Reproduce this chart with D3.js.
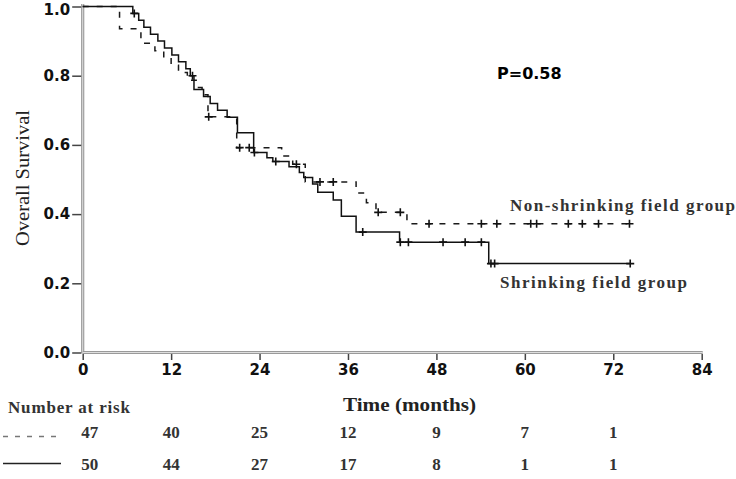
<!DOCTYPE html>
<html>
<head>
<meta charset="utf-8">
<script src="https://cdn.jsdelivr.net/npm/d3@7"></script>
<style>
  body { margin: 0; background: #fff; }
  svg { display: block; }
</style>
</head>
<body>
<div id="chart"></div>
<script>
// values
var timeTicks = [0, 12, 24, 36, 48, 60, 72, 84];
var survTicks = [0, 0.2, 0.4, 0.6, 0.8, 1.0];

// [time, survival after the drop]
var solidSteps = [
  [6.8, 0.98], [7.6, 0.96], [8.3, 0.94], [9.2, 0.92], [10.2, 0.90],
  [11.1, 0.88], [12.1, 0.86], [13.0, 0.84], [14.0, 0.82], [14.6, 0.80],
  [15.1, 0.76], [16.4, 0.74], [17.3, 0.72], [18.3, 0.70], [19.6, 0.68],
  [21.0, 0.635], [23.2, 0.578], [25.0, 0.563], [25.8, 0.552], [28.0, 0.537],
  [29.4, 0.52], [30.0, 0.506], [31.2, 0.487], [31.9, 0.463], [34.0, 0.441],
  [35.1, 0.394], [37.1, 0.348], [43.0, 0.319], [55.1, 0.257]
];
var solidCensor = [7.0, 14.9, 23.3, 26.2, 38.0, 43.1, 44.2, 48.9, 51.9, 54.1, 55.4, 55.9, 74.3];
var solidEnd = 74.3;

var dashedSteps = [
  [5.0, 0.936], [7.9, 0.894], [9.8, 0.872], [11.0, 0.851], [12.0, 0.830],
  [13.0, 0.809], [14.2, 0.787], [15.4, 0.766], [16.2, 0.745], [17.0, 0.681],
  [20.9, 0.592], [27.0, 0.568], [28.5, 0.544], [30.2, 0.493], [37.1, 0.461],
  [38.5, 0.433], [39.8, 0.405], [44.0, 0.372]
];
var dashedCensor = [17.1, 21.3, 22.6, 29.0, 32.2, 34.0, 40.1, 43.1, 47.0, 54.1, 56.2, 60.8, 61.6, 65.9, 67.8, 70.0, 74.2];
var dashedEnd = 74.2;

var riskTimes = [0, 12, 24, 36, 48, 60, 72];
var riskDashed = [47, 40, 25, 12, 9, 7, 1];
var riskSolid = [50, 44, 27, 17, 8, 1, 1];

var width = 736, height = 479;

var svg = d3.select('#chart').append('svg')
    .attr('width', width)
    .attr('height', height);

var x = d3.scaleLinear().domain([0, 84]).range([82.7, 701.7]);
var y = d3.scaleLinear().domain([0, 1]).range([352.5, 6.5]);

var sans = 'DejaVu Sans, sans-serif';
var serif = 'Liberation Serif, Times New Roman, serif';

// axes: grey double line look
function axisLine(x1, y1, x2, y2) {
  svg.append('line').attr('x1', x1).attr('y1', y1).attr('x2', x2).attr('y2', y2)
    .attr('stroke', '#9a9a9a').attr('stroke-width', 3.2);
  svg.append('line').attr('x1', x1).attr('y1', y1).attr('x2', x2).attr('y2', y2)
    .attr('stroke', '#dedede').attr('stroke-width', 1);
}
axisLine(x(0), 4, x(0), y(0) + 1);
axisLine(x(0), y(0), x(84) + 1, y(0));

// y ticks
var yAx = svg.append('g')
    .attr('transform', 'translate(' + (x(0) - 1.5) + ',0)')
    .call(d3.axisLeft(y).tickValues(survTicks).tickFormat(d3.format('.1f')).tickSize(9).tickPadding(2));
yAx.select('.domain').remove();
yAx.selectAll('.tick line').attr('stroke', '#444').attr('stroke-width', 1.5);
yAx.selectAll('.tick text')
    .attr('fill', '#111')
    .style('font-family', sans).style('font-size', '15px').style('font-weight', 'bold');
// keep the top label inside the frame
yAx.selectAll('.tick text').filter(function(d) { return d === 1; }).attr('dy', '0.5em');

// x ticks
var xAx = svg.append('g')
    .attr('transform', 'translate(0,' + (y(0) + 1.5) + ')')
    .call(d3.axisBottom(x).tickValues(timeTicks).tickFormat(d3.format('d')).tickSize(6).tickPadding(4));
xAx.select('.domain').remove();
xAx.selectAll('.tick line').attr('stroke', '#444').attr('stroke-width', 1.5);
xAx.selectAll('.tick text')
    .attr('fill', '#111')
    .style('font-family', sans).style('font-size', '15px').style('font-weight', 'bold');

// survival curves
function points(steps, end) {
  var pts = [[0, 1]];
  steps.forEach(function(s) { pts.push(s); });
  pts.push([end, steps[steps.length - 1][1]]);
  return pts;
}
function survAt(steps, t) {
  var s = 1;
  steps.forEach(function(d) { if (d[0] <= t) s = d[1]; });
  return s;
}

var line = d3.line()
    .x(function(d) { return x(d[0]); })
    .y(function(d) { return y(d[1]); })
    .curve(d3.curveStepAfter);

svg.append('path')
    .datum(points(dashedSteps, dashedEnd))
    .attr('d', line)
    .attr('fill', 'none')
    .attr('stroke', '#1a1a1a')
    .attr('stroke-width', 1.5)
    .attr('stroke-dasharray', '6,8');

svg.append('path')
    .datum(points(solidSteps, solidEnd))
    .attr('d', line)
    .attr('fill', 'none')
    .attr('stroke', '#111')
    .attr('stroke-width', 1.5);

function censorMarks(times, steps) {
  svg.append('g').selectAll('path')
    .data(times)
    .enter()
      .append('path')
      .attr('d', function(t) {
        var cx = x(t), cy = y(survAt(steps, t));
        return 'M' + (cx - 4) + ',' + cy + 'H' + (cx + 4) + 'M' + cx + ',' + (cy - 4) + 'V' + (cy + 4);
      })
      .attr('stroke', '#111')
      .attr('stroke-width', 1.6);
}
censorMarks(dashedCensor, dashedSteps);
censorMarks(solidCensor, solidSteps);

// labels
svg.append('text')
    .attr('x', 497).attr('y', 79)
    .style('font-family', sans).style('font-size', '16px').style('font-weight', 'bold')
    .attr('fill', '#000')
    .text('P=0.58');

svg.append('text')
    .attr('x', 510).attr('y', 211)
    .attr('textLength', 225).attr('lengthAdjust', 'spacing')
    .style('font-family', serif).style('font-size', '17px').style('font-weight', 'bold')
    .attr('fill', '#333')
    .text('Non-shrinking field group');

svg.append('text')
    .attr('x', 500).attr('y', 288)
    .attr('textLength', 187).attr('lengthAdjust', 'spacing')
    .style('font-family', serif).style('font-size', '17px').style('font-weight', 'bold')
    .attr('fill', '#333')
    .text('Shrinking field group');

svg.append('text')
    .attr('transform', 'translate(29,178) rotate(-90)')
    .attr('text-anchor', 'middle')
    .attr('textLength', 136).attr('lengthAdjust', 'spacingAndGlyphs')
    .style('font-family', serif).style('font-size', '19px')
    .attr('fill', '#222')
    .text('Overall Survival');

svg.append('text')
    .attr('x', 343).attr('y', 411)
    .attr('textLength', 133).attr('lengthAdjust', 'spacingAndGlyphs')
    .style('font-family', serif).style('font-size', '18px').style('font-weight', 'bold')
    .attr('fill', '#222')
    .text('Time (months)');

svg.append('text')
    .attr('x', 8).attr('y', 413)
    .attr('textLength', 122).attr('lengthAdjust', 'spacing')
    .style('font-family', serif).style('font-size', '17px').style('font-weight', 'bold')
    .attr('fill', '#333')
    .text('Number at risk');

// number at risk table
var rows = [
  { values: riskDashed, base: 438, dash: '5,7', color: '#777', ly: 436.5 },
  { values: riskSolid, base: 470, dash: null, color: '#222', ly: 463.5 }
];
rows.forEach(function(r) {
  svg.append('line')
    .attr('x1', 3).attr('x2', 61).attr('y1', r.ly).attr('y2', r.ly)
    .attr('stroke', r.color).attr('stroke-width', 1.5)
    .attr('stroke-dasharray', r.dash);
  svg.append('g').selectAll('text')
    .data(r.values)
    .enter()
      .append('text')
      .attr('x', function(d, i) { return x(riskTimes[i]) + (i === 0 ? 7 : 0); })
      .attr('y', r.base)
      .attr('text-anchor', 'middle')
      .style('font-family', serif).style('font-size', '17px').style('font-weight', 'bold')
      .attr('fill', '#333')
      .text(function(d) { return d; });
});
</script>
</body>
</html>
